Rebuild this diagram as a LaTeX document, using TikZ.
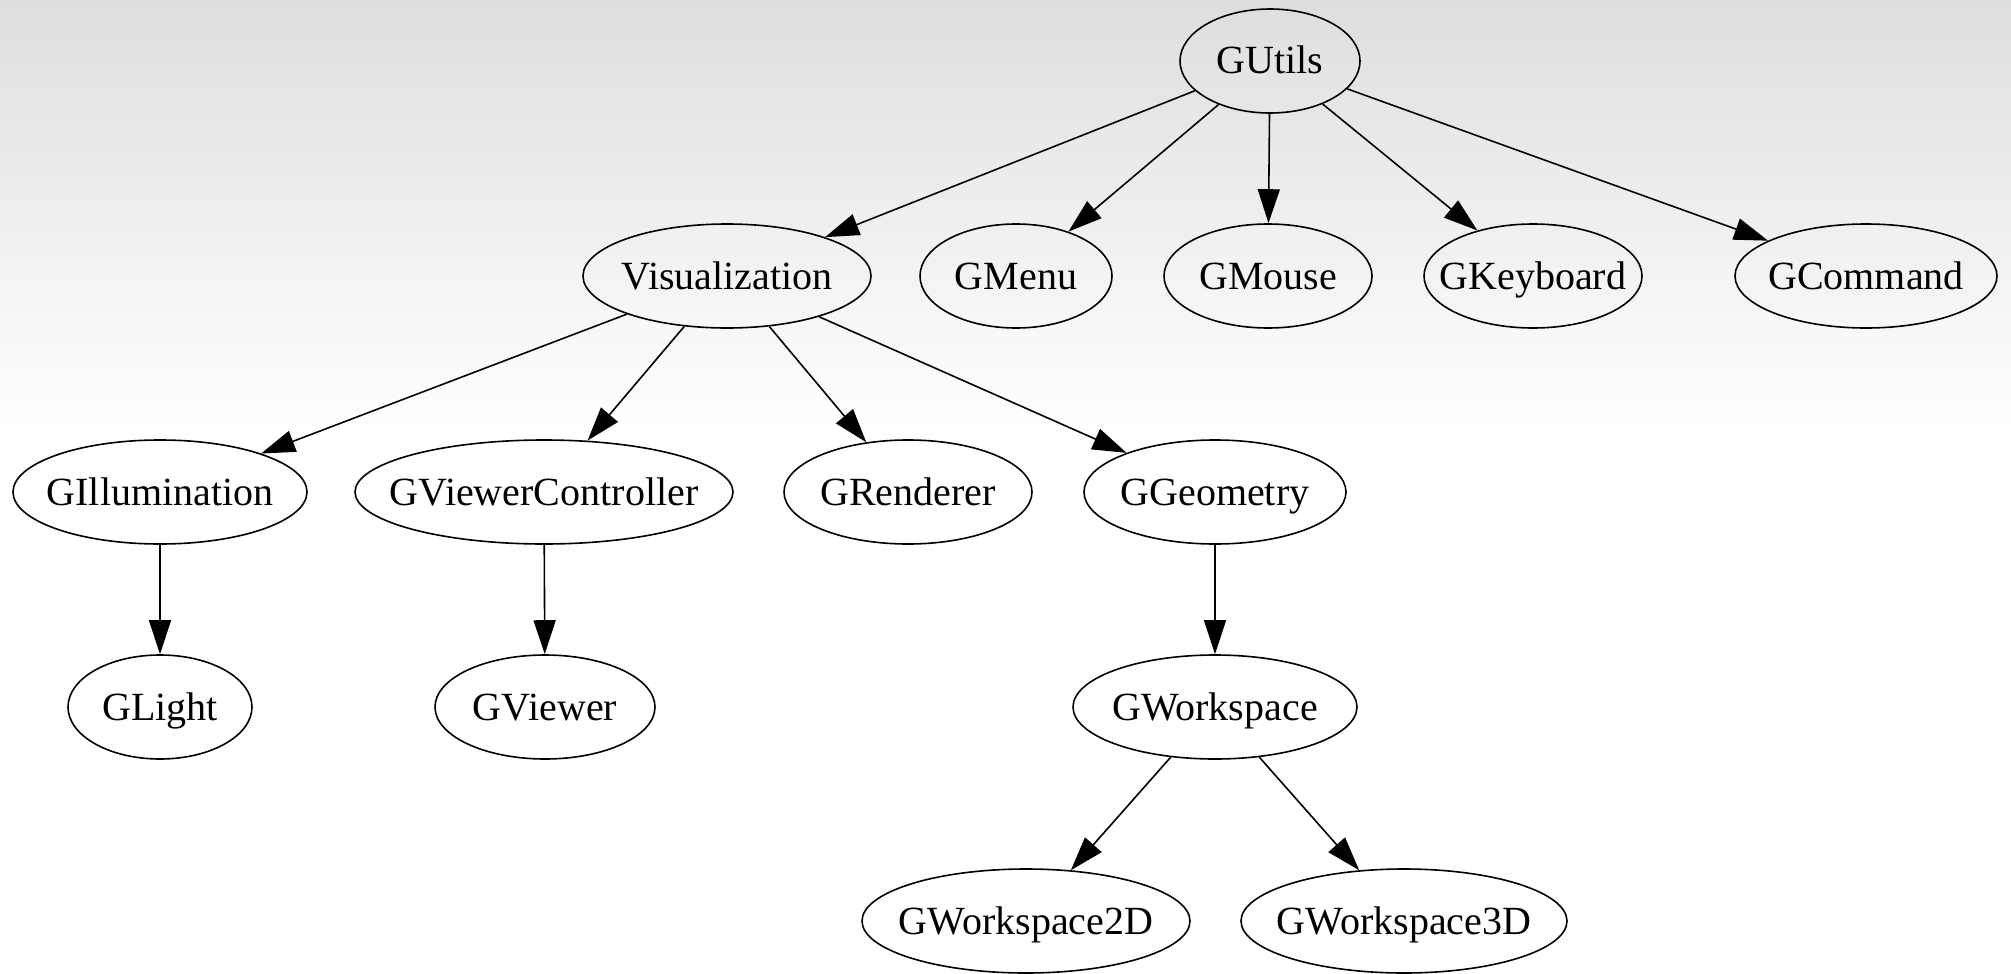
\documentclass[tikz,border=0pt]{standalone}
\usepackage{fontspec}
\setmainfont{Liberation Serif}
\usetikzlibrary{shapes.geometric,arrows.meta}

\begin{document}
\begin{tikzpicture}[x=1pt,y=-1pt,
  cls/.style={draw=black, line width=1.6pt, ellipse, inner sep=0pt,
              minimum height=104pt,
              label={[font=\fontsize{40}{42}\selectfont, inner sep=0pt,
                      text height=26pt, text depth=0pt]center:#1}},
  dep/.style={draw=black, line width=1.6pt,
              -{Triangle[length=34pt,width=22pt]}}]

  % page and soft grey band at the top
  \useasboundingbox (0,0) rectangle (2011,974);
  \fill[white] (0,0) rectangle (2011,974);
  \shade[top color=black!13, bottom color=white] (0,0) rectangle (2011,430);

  % class nodes (the ellipse size is fixed; the name sits in its centre)
  \node[cls=GUtils, minimum width=180pt] (gutils) at (1270,61) {};

  \node[cls=Visualization, minimum width=288pt] (vis)   at (727,276)  {};
  \node[cls=GMenu,         minimum width=192pt] (menu)  at (1016,276) {};
  \node[cls=GMouse,        minimum width=208pt] (mouse) at (1268,276) {};
  \node[cls=GKeyboard,     minimum width=218pt] (kbd)   at (1533,276) {};
  \node[cls=GCommand,      minimum width=262pt] (cmd)   at (1866,276) {};

  \node[cls=GIllumination,     minimum width=294pt] (illum) at (160,492)  {};
  \node[cls=GViewerController, minimum width=378pt] (vctl)  at (544,492)  {};
  \node[cls=GRenderer,         minimum width=248pt] (rend)  at (908,492)  {};
  \node[cls=GGeometry,         minimum width=262pt] (geom)  at (1215,492) {};

  \node[cls=GLight,     minimum width=184pt] (light)  at (160,707)  {};
  \node[cls=GViewer,    minimum width=220pt] (viewer) at (545,707)  {};
  \node[cls=GWorkspace, minimum width=284pt] (ws)     at (1215,707) {};

  \node[cls=GWorkspace2D, minimum width=328pt] (ws2d) at (1026,921) {};
  \node[cls=GWorkspace3D, minimum width=326pt] (ws3d) at (1404,921) {};

  % dependencies
  \draw[dep] (gutils) -- (vis);
  \draw[dep] (gutils) -- (menu);
  \draw[dep] (gutils) -- (mouse);
  \draw[dep] (gutils) -- (kbd);
  \draw[dep] (gutils) -- (cmd);

  \draw[dep] (vis) -- (illum);
  \draw[dep] (vis) -- (vctl);
  \draw[dep] (vis) -- (rend);
  \draw[dep] (vis) -- (geom);

  \draw[dep] (illum) -- (light);
  \draw[dep] (vctl) -- (viewer);
  \draw[dep] (geom) -- (ws);

  \draw[dep] (ws) -- (ws2d);
  \draw[dep] (ws) -- (ws3d);
\end{tikzpicture}
\end{document}
